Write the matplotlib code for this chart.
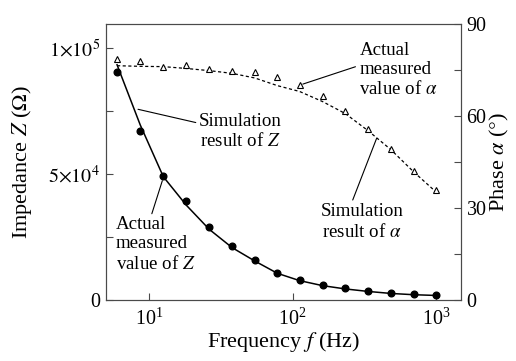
import matplotlib
matplotlib.use("Agg")
import matplotlib.pyplot as plt
from matplotlib.ticker import FixedLocator, FixedFormatter, NullLocator

plt.rcParams['font.family'] = ['Liberation Serif', 'DejaVu Serif']
plt.rcParams['mathtext.fontset'] = 'stix'

# Measurement frequencies (Hz)
freq = [6, 8.7, 12.6, 18.2, 26.3, 38, 54.6, 78.5, 112, 162, 233, 336, 485, 697, 1000]

# Impedance magnitude (ohm)
z_meas = [90600, 67100, 49300, 39500, 29100, 21300, 15900, 10700,
          7900, 5800, 4600, 3400, 2700, 2300, 2000]
z_sim = [93500, 69600, 49000, 37700, 28100, 20800, 15500, 10600,
         7700, 5700, 4400, 3400, 2600, 2100, 1800]

# Phase angle (degrees)
phase_meas = [78.7, 78.0, 76.1, 76.6, 75.3, 74.8, 74.2, 72.6,
              70.2, 66.5, 61.7, 55.8, 49.3, 42.2, 35.9]
phase_sim = [76.4, 76.2, 76.1, 75.5, 74.8, 73.9, 72.4, 69.9,
             68.0, 64.7, 60.8, 55.2, 49.0, 41.8, 35.2]

TICK_FS = 14.4
LABEL_FS = 16
NOTE_FS = 13.6
SPINE_C = '#4a4a4a'

fig = plt.figure(figsize=(5.16, 3.61), dpi=100)
ax = fig.add_axes([0.2048, 0.169, 0.6886, 0.7645])
ax2 = ax.twinx()

# impedance: solid simulation curve + filled dots
ax.plot(freq, z_sim, color='black', lw=1.1, zorder=2)
ax.plot(freq, z_meas, 'o', color='black', ms=4.8, zorder=3)

# phase: dashed simulation curve + open triangles
ax2.plot(freq, phase_sim, color='black', lw=0.9, ls=(0, (2.5, 2)))
ax2.plot(freq, phase_meas, '^', mfc='white', mec='black', mew=0.8, ms=5.0)

ax.set_xscale('log')
ax.set_xlim(5.0, 1490)
ax.set_ylim(0, 1.097e5)
ax2.set_ylim(0, 90)
ax.xaxis.set_minor_locator(NullLocator())

ax.yaxis.set_major_locator(FixedLocator([0, 5e4, 1e5]))
ax.yaxis.set_major_formatter(FixedFormatter(['0', r'$5{\times}10^4$', r'$1{\times}10^5$']))
ax.yaxis.set_minor_locator(FixedLocator([2.5e4, 7.5e4]))
ax2.yaxis.set_major_locator(FixedLocator([0, 30, 60, 90]))
ax2.yaxis.set_minor_locator(FixedLocator([15, 45, 75]))

for a in (ax, ax2):
    a.tick_params(which='both', direction='in', color=SPINE_C, labelsize=TICK_FS)
    a.tick_params(which='major', length=5, width=0.8)
    a.tick_params(which='minor', length=5, width=0.8)
    for s in a.spines.values():
        s.set_color(SPINE_C)
        s.set_linewidth(0.8)
ax.tick_params(axis='y', pad=4)
ax.tick_params(axis='x', pad=6)
ax2.tick_params(axis='y', pad=4)

ax.set_xlabel('Frequency $f$ (Hz)', fontsize=LABEL_FS, labelpad=0)
ax.set_ylabel(r'Impedance $Z$ ($\Omega$)', fontsize=LABEL_FS, labelpad=10)
ax2.set_ylabel(r'Phase $\alpha$ ($\degree$)', fontsize=LABEL_FS, labelpad=1)

line_kw = dict(arrowstyle='-', color='black', lw=0.8, shrinkA=0, shrinkB=0)

ax.annotate('Simulation\nresult of $Z$', xy=(8.4, 75800),
            xytext=(0.378, 0.6105), textcoords='axes fraction',
            ha='center', va='center', fontsize=NOTE_FS, linespacing=1.2,
            arrowprops=dict(relpos=(0, 0.72), **line_kw), zorder=5)
ax.annotate('Actual\nmeasured\nvalue of $Z$', xy=(12.4, 47400),
            xytext=(0.029, 0.201), textcoords='axes fraction',
            ha='left', va='center', fontsize=NOTE_FS, linespacing=1.15,
            arrowprops=dict(relpos=(0.44, 1), **line_kw), zorder=5)
ax2.annotate('Actual\nmeasured\nvalue of $\\alpha$', xy=(118, 70.4),
             xytext=(0.714, 0.833), textcoords='axes fraction',
             ha='left', va='center', fontsize=NOTE_FS, linespacing=1.15,
             arrowprops=dict(relpos=(-0.05, 0.56), **line_kw))
ax2.annotate('Simulation\nresult of $\\alpha$', xy=(385, 52.7),
             xytext=(0.7214, 0.2837), textcoords='axes fraction',
             ha='center', va='center', fontsize=NOTE_FS, linespacing=1.2,
             arrowprops=dict(relpos=(0.375, 1), **line_kw))

fig.savefig('out.png', dpi=100)
